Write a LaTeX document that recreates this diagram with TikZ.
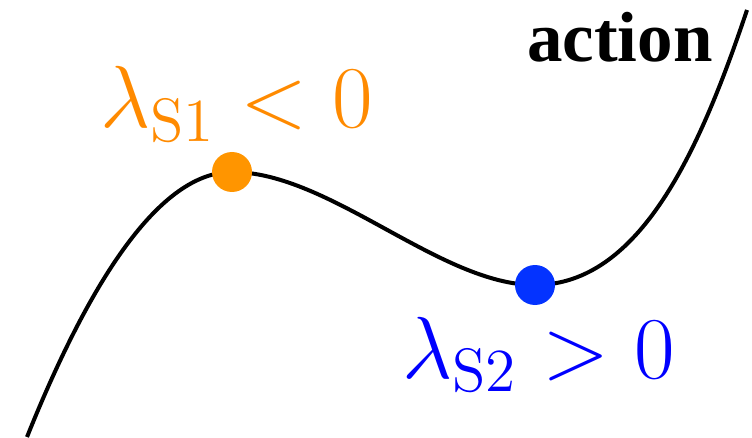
\documentclass[tikz,border=0pt]{standalone}
\usepackage{graphicx}
\usepackage[no-math]{fontspec}
\newfontfamily\actfont{Liberation Serif}
\definecolor{dotorange}{HTML}{FF9500}
\definecolor{txtorange}{HTML}{FF8A00}
\definecolor{dotblue}{HTML}{0433FF}
\definecolor{txtblue}{HTML}{0000FF}
\begin{document}
\begin{tikzpicture}[x=1pt,y=1pt,
  curveline/.style={line width=4pt},
  dotnode/.style={circle, inner sep=0pt, minimum size=40pt},
  lbl/.style={inner sep=0pt, anchor=base west}]
\useasboundingbox (0,0) rectangle (752,437);
\coordinate (st) at (27,0);
\coordinate (mx) at (232,265);
\coordinate (mn) at (535,152);
\coordinate (en) at (747,427);
\draw[curveline] (st) .. controls (90,157) and (160,265) .. (mx)
  .. controls (330,265) and (440,152) .. (mn)
  .. controls (640,152) and (700,287) .. (en);
\node[dotnode, fill=dotorange] (s1) at (mx) {};
\node[dotnode, fill=dotblue] (s2) at (mn) {};
\node[lbl, text=txtorange] (l1) at (100,309) {\scalebox{4.25}{\fontsize{20}{24}\selectfont$\lambda_{\mathrm{S1}} < 0$}};
\node[lbl, text=txtblue] (l2) at (402,59) {\scalebox{4.25}{\fontsize{20}{24}\selectfont$\lambda_{\mathrm{S2}} > 0$}};
\node[lbl] (act) at (527,375) {\actfont\bfseries\fontsize{71}{75}\selectfont action};
\end{tikzpicture}
\end{document}
